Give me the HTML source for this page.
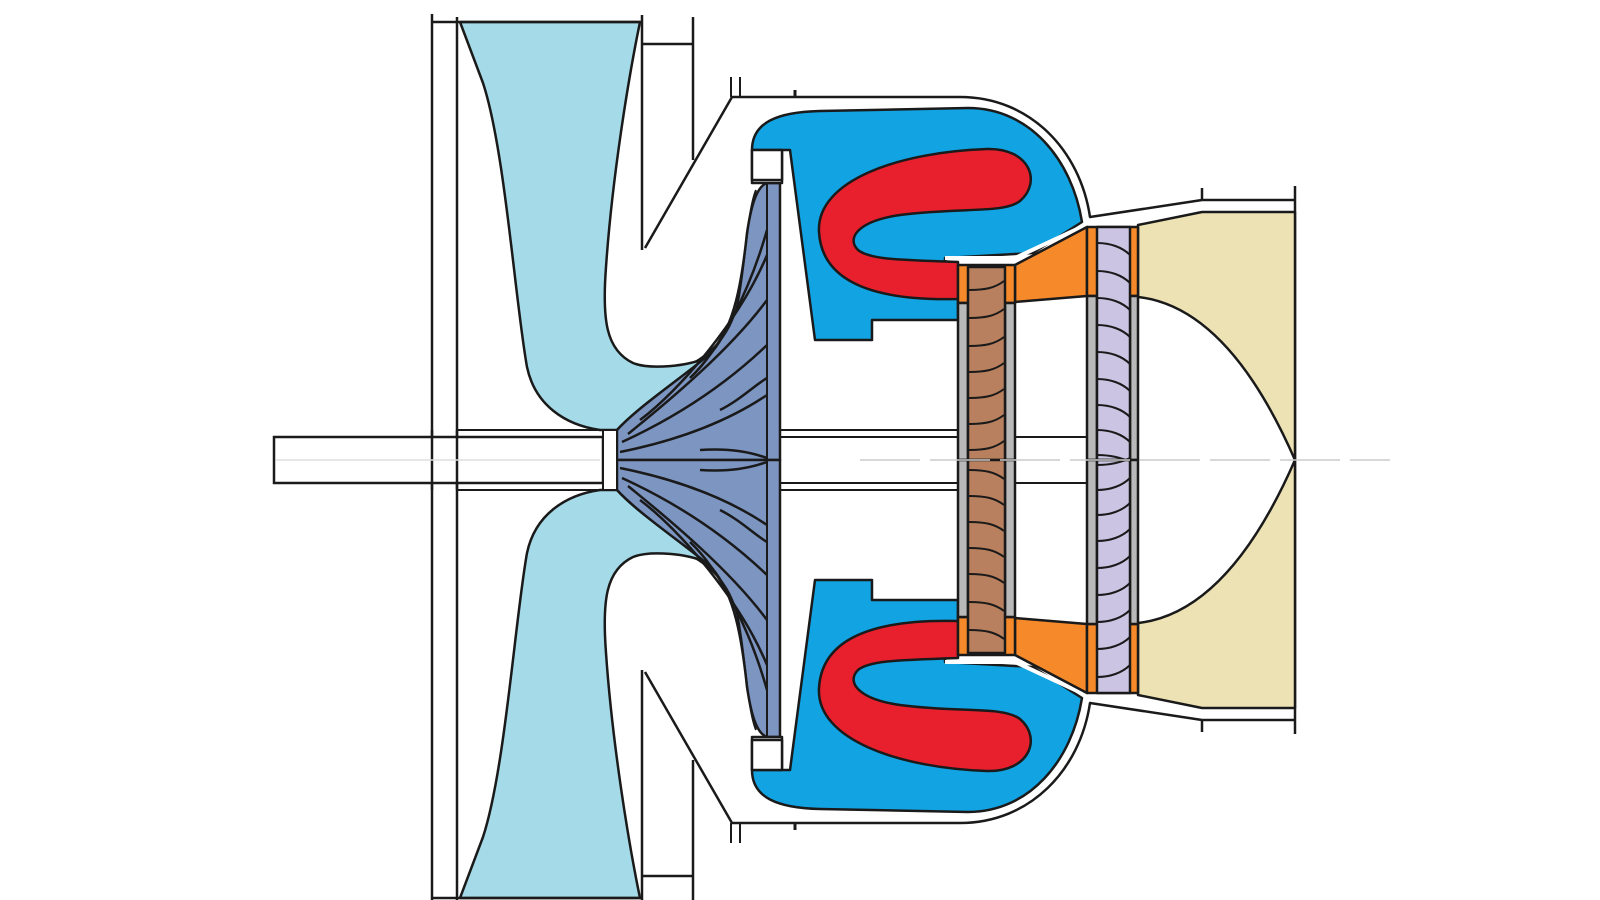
<!DOCTYPE html>
<html><head><meta charset="utf-8"><style>html,body{margin:0;padding:0;background:#fff}svg{display:block}</style></head>
<body>
<svg width="1600" height="900" viewBox="0 0 1600 900" xmlns="http://www.w3.org/2000/svg">
<defs>
<g id="half" stroke="#1a1a1a" stroke-width="2.5" fill="none" stroke-linejoin="round">
  <!-- light blue fan flow -->
  <path d="M460,22 L640,22 C628,80 612,180 606,267 C602,320 606,350 633,363 C650,370 690,366 705,358 C680,380 640,405 617,430 L600,430 C565,425 535,405 527,367 C515,300 505,150 483,83 Z" fill="#a5dbe9"/>
  <!-- impeller -->
  <path d="M617,460 L617,430 C640,405 690,372 712,352 C735,325 742,280 747,233 C752,200 758,186 767,183 L780,183 L780,460 Z" fill="#7d95c1"/>
  <path d="M767,183 L767,460" stroke-width="2"/>
  <path d="M756,190 C748,210 745,260 740,290 C735,330 715,350 695,362" stroke-width="2"/>
  <path d="M620,452 C680,440 730,420 767,395"/>
  <path d="M622,442 C670,420 720,390 767,345"/>
  <path d="M628,434 C670,400 730,350 767,300"/>
  <path d="M640,420 C680,390 740,320 767,255"/>
  <path d="M690,378 C720,350 750,290 767,230"/>
  <path d="M700,450 C730,448 750,452 767,458"/>
  <path d="M720,410 C740,400 755,385 767,378"/>
  <!-- white block above impeller -->
  <rect x="752" y="150" width="30" height="33" fill="#fff"/>
  <!-- casing lines -->
  <path d="M432,14 L432,460"/>
  <path d="M457,17 L457,460"/>
  <path d="M432,22 L642,22"/>
  <path d="M642,15 L642,250"/>
  <path d="M642,44 L693,44"/>
  <path d="M693,17 L693,160"/>
  <path d="M645,248 L732,97"/>
  <path d="M731,77 L731,97 M740,77 L740,97" stroke-width="2"/>
  <path d="M732,97 L960,97 C1030,97 1080,150 1090,217 L1202,200 L1295,200"/>
  <path d="M795,90 L795,97" stroke-width="3"/>
  <path d="M1202,188 L1202,200 M1295,186 L1295,460"/>
  <!-- combustor blue -->
  <path d="M752,150 C752,122 778,112 820,111 L968,108 C1030,108 1072,160 1082,222 L1033,253 L945,258 L945,265 L958,265 L958,320 L872,320 L872,340 L815,340 L790,150 Z" fill="#12a3e2"/>
  <rect x="752" y="150" width="30" height="30" fill="#fff"/>
  <path d="M945,258 L1015,258 L1088,224" stroke="#fff" stroke-width="4"/>
  <!-- red -->
  <path d="M958,299 C880,301 822,285 819,232 C816,180 900,152 987,149 C1030,148 1042,182 1020,201 C1003,214 960,207 900,215 C858,221 846,238 858,250 C870,260 905,260 958,262 Z" fill="#e8202d"/>
  <!-- shaft sleeve lines -->
  <path d="M457,430 L603,430 M780,430 L958,430 M780,437 L958,437 M1015,437 L1087,437" stroke-width="2"/>
  <!-- tan exhaust cone -->
  <path d="M1138,225 L1202,212 L1295,212 L1295,460 C1260,380 1210,305 1138,297 Z" fill="#ede2b4"/>
  <!-- nozzle orange -->
  <path d="M1015,265 L1087,227 L1087,296 L1015,302 Z" fill="#f68a2b"/>
  <rect x="958" y="265" width="57" height="38" fill="#f68a2b"/>
  <rect x="1087" y="227" width="51" height="69" fill="#f68a2b"/>
  <rect x="958" y="303" width="10" height="157" fill="#b9b9b9"/>
  <rect x="1005" y="303" width="10" height="157" fill="#b9b9b9"/>
  <rect x="1087" y="296" width="10" height="164" fill="#b9b9b9"/>
  <rect x="1130" y="296" width="8" height="164" fill="#b9b9b9"/>
  <rect x="968" y="267" width="37" height="193" fill="#b8805e"/>
  <rect x="1097" y="227" width="33" height="233" fill="#cbc4e3"/>
  <g stroke-width="2">
    <path d="M969,290 C985,290 995,288 1004,281"/>
    <path d="M969,318 C985,318 995,316 1004,309"/>
    <path d="M969,346 C985,346 995,344 1004,337"/>
    <path d="M969,372 C985,372 995,370 1004,363"/>
    <path d="M969,398 C985,398 995,396 1004,389"/>
    <path d="M969,424 C985,424 995,422 1004,415"/>
    <path d="M969,450 C985,450 995,448 1004,441"/>
    <path d="M1097,243 C1110,243 1122,247 1130,255"/>
    <path d="M1097,271 C1110,271 1122,275 1130,283"/>
    <path d="M1097,298 C1110,298 1122,302 1130,310"/>
    <path d="M1097,325 C1110,325 1122,329 1130,337"/>
    <path d="M1097,352 C1110,352 1122,356 1130,364"/>
    <path d="M1097,379 C1110,379 1122,383 1130,391"/>
    <path d="M1097,405 C1110,405 1122,409 1130,417"/>
    <path d="M1097,430 C1110,430 1122,434 1130,442"/>
    <path d="M1097,455 C1110,455 1122,458 1130,462"/>
  </g>
</g>
</defs>
<use href="#half"/>
<use href="#half" transform="matrix(1,0,0,-1,0,920)"/>
<!-- shaft -->
<rect x="274" y="437" width="329" height="46" fill="#fff" stroke="#1a1a1a" stroke-width="2.5"/>
<path d="M432,430 L432,490 M457,430 L457,490" stroke="#1a1a1a" stroke-width="2.5"/>
<rect x="603" y="430" width="14" height="60" fill="#fff" stroke="#1a1a1a" stroke-width="2"/>
<path d="M276,460 L600,460" stroke="#ddd" stroke-width="1.5"/>
<path d="M860,460 L1390,460" stroke="#ccc" stroke-width="1.5" stroke-dasharray="60,10"/>
</svg>
</body></html>
